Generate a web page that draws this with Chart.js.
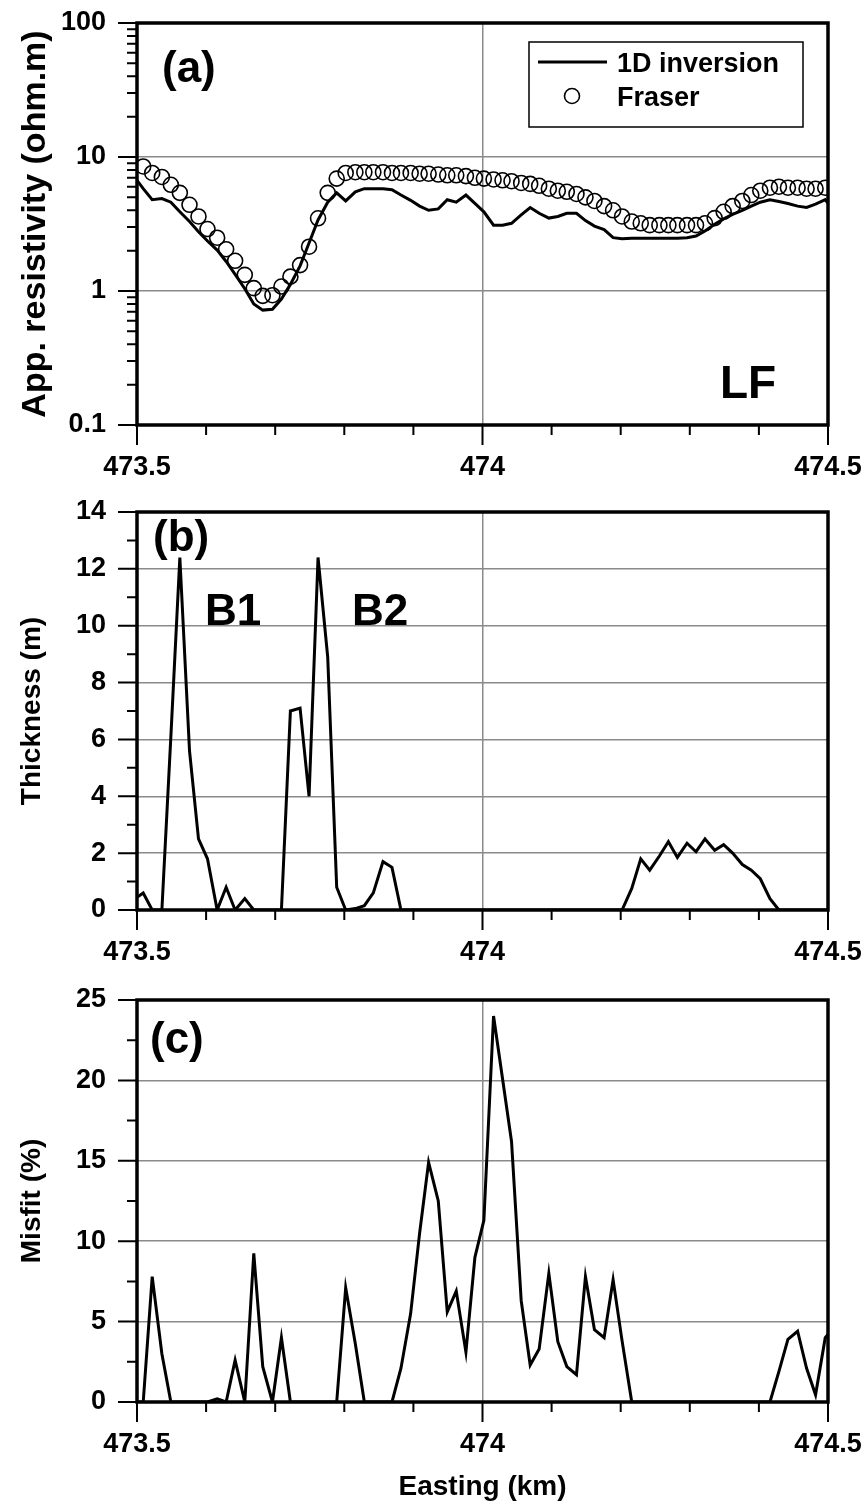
<!DOCTYPE html>
<html>
<head>
<meta charset="utf-8">
<script src="https://cdn.jsdelivr.net/npm/chart.js@4"></script>
<style>
  body { margin: 0; background: #fff; width: 866px; height: 1504px; position: relative; overflow: hidden; }
  canvas { position: absolute; left: 0; }
</style>
</head>
<body>
<canvas id="panelA" width="866" height="490" style="top:0px"></canvas>
<canvas id="panelB" width="866" height="490" style="top:490px"></canvas>
<canvas id="panelC" width="866" height="524" style="top:980px"></canvas>
<script>
// sample positions along the line (km), first and last are the plot edges
const eastings = [473.500,
  473.509, 473.522, 473.536, 473.549, 473.562, 473.576, 473.589, 473.602, 473.616, 473.629,
  473.642, 473.656, 473.669, 473.682, 473.696, 473.709, 473.722, 473.736, 473.749, 473.762,
  473.776, 473.789, 473.802, 473.816, 473.829, 473.842, 473.856, 473.869, 473.882, 473.896,
  473.909, 473.922, 473.936, 473.949, 473.962, 473.976, 473.989, 474.002, 474.016, 474.029,
  474.042, 474.056, 474.069, 474.082, 474.096, 474.109, 474.122, 474.136, 474.149, 474.162,
  474.176, 474.189, 474.202, 474.216, 474.229, 474.242, 474.256, 474.269, 474.282, 474.296,
  474.309, 474.322, 474.336, 474.349, 474.362, 474.376, 474.389, 474.402, 474.416, 474.429,
  474.442, 474.456, 474.469, 474.482, 474.496,
  474.500];

// (a) apparent resistivity, ohm.m
const inversion = [6.7,
  5.8, 4.8, 4.9, 4.6, 3.9, 3.3, 2.77, 2.36, 2.02, 1.66,
  1.33, 1.04, 0.8, 0.72, 0.73, 0.87, 1.12, 1.54, 2.28, 3.39,
  4.6, 5.4, 4.7, 5.5, 5.8, 5.8, 5.8, 5.7, 5.2, 4.75,
  4.3, 4.0, 4.1, 4.8, 4.6, 5.2, 4.5, 3.9, 3.1, 3.1,
  3.2, 3.7, 4.2, 3.8, 3.5, 3.6, 3.8, 3.8, 3.35, 3.05,
  2.87, 2.5, 2.45, 2.48, 2.48, 2.48, 2.48, 2.48, 2.48, 2.5,
  2.57, 2.8, 3.15, 3.45, 3.73, 4.0, 4.3, 4.6, 4.8, 4.65,
  4.5, 4.3, 4.2, 4.45, 4.8,
  4.5];
const fraser = [null,
  8.5, 7.6, 7.1, 6.2, 5.4, 4.4, 3.6, 2.9, 2.5, 2.05,
  1.68, 1.32, 1.05, 0.92, 0.93, 1.08, 1.28, 1.56, 2.14, 3.49,
  5.4, 6.9, 7.6, 7.7, 7.7, 7.7, 7.7, 7.6, 7.6, 7.6,
  7.5, 7.5, 7.4, 7.3, 7.3, 7.2, 7.0, 6.9, 6.8, 6.7,
  6.6, 6.4, 6.3, 6.1, 5.8, 5.6, 5.5, 5.3, 5.0, 4.7,
  4.3, 4.0, 3.6, 3.3, 3.2, 3.1, 3.1, 3.1, 3.1, 3.1,
  3.1, 3.2, 3.5, 3.9, 4.3, 4.7, 5.2, 5.6, 5.9, 6.0,
  5.9, 5.9, 5.8, 5.8, 5.9,
  null];

// (b) thickness, m
const thickness = [0.45,
  0.6, 0, 0, 6.1, 12.4, 5.6, 2.5, 1.8, 0, 0.8,
  0, 0.4, 0, 0, 0, 0, 7.0, 7.1, 4.0, 12.4,
  8.9, 0.8, 0, 0.05, 0.15, 0.6, 1.7, 1.5, 0, 0,
  0, 0, 0, 0, 0, 0, 0, 0, 0, 0,
  0, 0, 0, 0, 0, 0, 0, 0, 0, 0,
  0, 0, 0, 0.76, 1.8, 1.4, 1.9, 2.4, 1.85, 2.35,
  2.05, 2.5, 2.1, 2.3, 2.0, 1.6, 1.4, 1.1, 0.4, 0,
  0, 0, 0, 0, 0,
  0];

// (c) misfit, %
const misfit = [0,
  0, 7.8, 3.0, 0, 0, 0, 0, 0, 0.2, 0,
  2.6, 0, 9.25, 2.2, 0, 4.0, 0, 0, 0, 0,
  0, 0, 7.1, 3.6, 0, 0, 0, 0, 2.1, 5.5,
  10.5, 14.9, 12.5, 5.6, 6.9, 3.1, 9.0, 11.3, 24.0, 20.1,
  16.2, 6.3, 2.3, 3.3, 8.0, 3.75, 2.2, 1.7, 7.8, 4.5,
  4.0, 7.6, 3.8, 0, 0, 0, 0, 0, 0, 0,
  0, 0, 0, 0, 0, 0, 0, 0, 0, 1.9,
  3.9, 4.4, 2.1, 0.45, 4.0,
  4.2];

const xTicks = [473.5, 474, 474.5];
const xMinor = [473.6, 473.7, 473.8, 473.9, 474.1, 474.2, 474.3, 474.4];
const resTicks = [0.1, 1, 10, 100];
const resMinor = [0.2, 0.3, 0.4, 0.5, 0.6, 0.7, 0.8, 0.9, 2, 3, 4, 5, 6, 7, 8, 9, 20, 30, 40, 50, 60, 70, 80, 90];
const thickTicks = [0, 2, 4, 6, 8, 10, 12, 14];
const thickMinor = [1, 3, 5, 7, 9, 11, 13];
const misfitTicks = [0, 5, 10, 15, 20, 25];
const misfitMinor = [2.5, 7.5, 12.5, 17.5, 22.5];

const FAMILY = "'Liberation Sans', Arial, sans-serif";
Chart.defaults.font.family = FAMILY;
Chart.defaults.color = '#000';

function pts(ys) {
  return eastings.map((x, i) => ({ x: x, y: ys[i] })).filter(p => p.y !== null);
}

// frame, tick marks and in-plot annotations
const framePlugin = {
  id: 'frame',
  afterDraw(chart, args, opts) {
    const ctx = chart.ctx, a = chart.chartArea;
    const xs = chart.scales.x, ys = chart.scales.y;
    ctx.save();
    ctx.strokeStyle = '#000';
    ctx.lineWidth = 2;
    ctx.beginPath();
    xTicks.forEach(v => { const p = xs.getPixelForValue(v); ctx.moveTo(p, a.bottom); ctx.lineTo(p, a.bottom + 20); });
    xMinor.forEach(v => { const p = xs.getPixelForValue(v); ctx.moveTo(p, a.bottom); ctx.lineTo(p, a.bottom + 10); });
    opts.major.forEach(v => { const p = ys.getPixelForValue(v); ctx.moveTo(a.left - 19, p); ctx.lineTo(a.left, p); });
    opts.minor.forEach(v => { const p = ys.getPixelForValue(v); ctx.moveTo(a.left - 10, p); ctx.lineTo(a.left, p); });
    ctx.stroke();
    ctx.lineWidth = 3.5;
    ctx.strokeRect(a.left, a.top, a.right - a.left, a.bottom - a.top);

    ctx.fillStyle = '#000';
    ctx.textBaseline = 'alphabetic';
    ctx.textAlign = 'left';
    (opts.labels || []).forEach(l => {
      ctx.font = 'bold ' + l.size + 'px ' + FAMILY;
      ctx.fillText(l.text, a.left + l.dx, a.top + l.dy);
    });

    if (opts.legend) {
      const L = a.left, T = a.top;
      ctx.lineWidth = 1.5;
      ctx.fillStyle = '#fff';
      ctx.fillRect(L + 392, T + 19, 274, 85);
      ctx.strokeRect(L + 392, T + 19, 274, 85);
      ctx.lineWidth = 3;
      ctx.beginPath();
      ctx.moveTo(L + 401, T + 39); ctx.lineTo(L + 470, T + 39);
      ctx.stroke();
      ctx.lineWidth = 1.6;
      ctx.beginPath();
      ctx.arc(L + 435, T + 73, 7.5, 0, Math.PI * 2);
      ctx.stroke();
      ctx.fillStyle = '#000';
      ctx.font = 'bold 27px ' + FAMILY;
      ctx.fillText('1D inversion', L + 480, T + 49);
      ctx.fillText('Fraser', L + 480, T + 83);
    }
    ctx.restore();
  }
};

const tickFont = { family: FAMILY, size: 27, weight: 'bold' };
// tick marks themselves come from the frame plugin, so the library's are kept invisible
const xGrid = { color: '#8a8a8a', lineWidth: 1.5, drawTicks: true, tickLength: 23, tickColor: 'rgba(0,0,0,0)' };
const yGrid = { color: '#8a8a8a', lineWidth: 1.5, drawTicks: true, tickLength: 28, tickColor: 'rgba(0,0,0,0)' };

function panel(id, cfg) {
  return new Chart(document.getElementById(id), {
    type: 'line',
    data: { datasets: cfg.datasets },
    options: {
      responsive: false,
      animation: false,
      devicePixelRatio: 1,
      layout: { padding: { top: cfg.top, right: 38, left: 0, bottom: 0 } },
      plugins: { legend: { display: false }, tooltip: { enabled: false }, frame: cfg.frame },
      scales: {
        x: {
          type: 'linear', min: 473.5, max: 474.5,
          afterBuildTicks: s => { s.ticks = xTicks.map(v => ({ value: v })); },
          afterFit: s => { s.height = cfg.xHeight; },
          grid: xGrid,
          border: { display: false },
          ticks: { padding: 3, font: tickFont, color: '#000', maxRotation: 0, autoSkip: false, callback: v => String(v) },
          title: cfg.xTitle || { display: false }
        },
        y: Object.assign({
          afterFit: s => { s.width = 137; },
          grid: yGrid,
          border: { display: false },
          ticks: { padding: 3, font: tickFont, color: '#000', autoSkip: false, callback: v => String(v) },
          title: { display: true, text: cfg.yTitle, font: { family: FAMILY, size: cfg.yTitleSize, weight: 'bold' }, color: '#000', padding: { top: 15, bottom: 0 } }
        }, cfg.y)
      }
    },
    plugins: [framePlugin]
  });
}

const lineStyle = { borderColor: '#000', borderWidth: 3, pointRadius: 0, tension: 0, fill: false };

panel('panelA', {
  top: 23, xHeight: 65,
  yTitle: 'App. resistivity (ohm.m)', yTitleSize: 34,
  y: {
    type: 'logarithmic', min: 0.1, max: 100,
    afterBuildTicks: s => { s.ticks = resTicks.map(v => ({ value: v })); }
  },
  datasets: [
    Object.assign({ label: '1D inversion', data: pts(inversion) }, lineStyle),
    { label: 'Fraser', data: pts(fraser), showLine: false, pointRadius: 7.5, pointBorderWidth: 1.6,
      pointBorderColor: '#000', pointBackgroundColor: 'rgba(0,0,0,0)', borderColor: '#000' }
  ],
  frame: {
    major: resTicks, minor: resMinor, legend: true,
    labels: [{ text: '(a)', size: 44, dx: 25, dy: 59 }, { text: 'LF', size: 46, dx: 583, dy: 375 }]
  }
});

panel('panelB', {
  top: 22, xHeight: 70,
  yTitle: 'Thickness (m)', yTitleSize: 28,
  y: {
    type: 'linear', min: 0, max: 14,
    afterBuildTicks: s => { s.ticks = thickTicks.map(v => ({ value: v })); }
  },
  datasets: [Object.assign({ label: 'Thickness', data: pts(thickness) }, lineStyle)],
  frame: {
    major: thickTicks, minor: thickMinor,
    labels: [{ text: '(b)', size: 44, dx: 16, dy: 39 }, { text: 'B1', size: 44, dx: 68, dy: 113 }, { text: 'B2', size: 44, dx: 215, dy: 113 }]
  }
});

panel('panelC', {
  top: 20, xHeight: 102,
  yTitle: 'Misfit (%)', yTitleSize: 28,
  xTitle: { display: true, text: 'Easting (km)', font: { family: FAMILY, size: 28, weight: 'bold' }, color: '#000', padding: { top: 0, bottom: 0 } },
  y: {
    type: 'linear', min: 0, max: 25,
    afterBuildTicks: s => { s.ticks = misfitTicks.map(v => ({ value: v })); }
  },
  datasets: [Object.assign({ label: 'Misfit', data: pts(misfit) }, lineStyle)],
  frame: {
    major: misfitTicks, minor: misfitMinor,
    labels: [{ text: '(c)', size: 44, dx: 13, dy: 53 }]
  }
});
</script>
</body>
</html>
